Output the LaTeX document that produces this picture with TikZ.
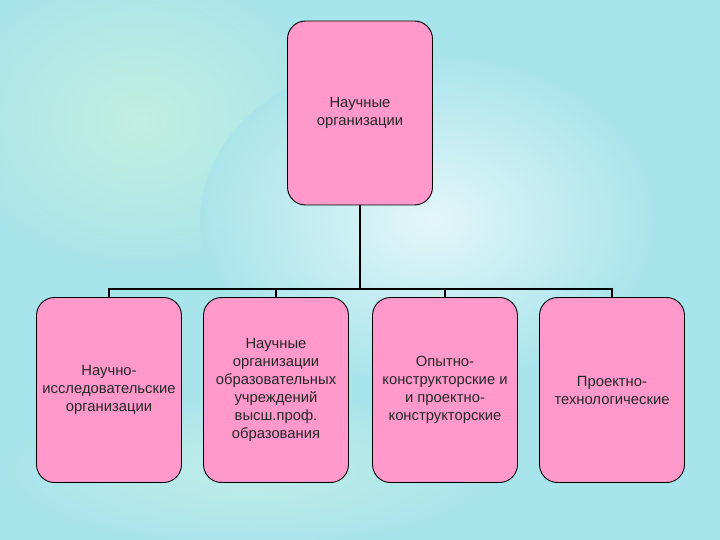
\documentclass[tikz,border=0pt]{standalone}
\usepackage{fontspec}
\setmainfont{Liberation Sans}
\begin{document}
\begin{tikzpicture}[x=1pt,y=-1pt,
  orgbox/.style={draw=black,line width=0.9pt,fill=boxpink,rounded corners=18pt,
    minimum width=145pt,minimum height=185pt,align=center,inner sep=2pt,
    font=\fontsize{14.8}{18}\selectfont,text=black!85},
  conn/.style={draw=black,line width=1.6pt}]
\definecolor{boxpink}{RGB}{255,153,204}
\definecolor{bgaqua}{RGB}{168,228,236}
\definecolor{bggreen}{RGB}{196,240,222}
\useasboundingbox (0,0) rectangle (720,540);
% background
\fill[bgaqua] (0,0) rectangle (720,540);
\shade[inner color=bggreen,outer color=bgaqua,opacity=0.9] (140,120) ellipse (200 and 160);
\shade[inner color=white!85!bgaqua,outer color=bgaqua,opacity=0.8] (430,220) ellipse (230 and 170);
\shade[inner color=bggreen!80!white,outer color=bgaqua,opacity=0.6] (250,470) ellipse (260 and 80);
% boxes
\node[orgbox,minimum height=184pt] (top) at (360,113) {Научные\\организации};
\node[orgbox] (b1) at (109,390) {Научно-\\исследовательские\\организации};
\node[orgbox] (b2) at (276,390) {Научные\\организации\\образовательных\\учреждений\\высш.проф.\\образования};
\node[orgbox] (b3) at (445,390) {Опытно-\\конструкторские и\\и проектно-\\конструкторские};
\node[orgbox] (b4) at (612,390) {Проектно-\\технологические};
% connectors
\coordinate (bus) at (360,289);
\draw[conn] (top.south) -- (bus);
\draw[conn] (b1.north) -- (b1.north |- bus) -- (b4.north |- bus) -- (b4.north);
\draw[conn] (b2.north) -- (b2.north |- bus);
\draw[conn] (b3.north) -- (b3.north |- bus);
\end{tikzpicture}
\end{document}
